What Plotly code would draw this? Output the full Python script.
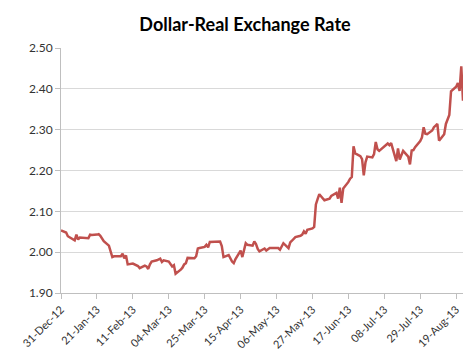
import plotly.graph_objects as go
import pandas as pd

dates = [
    "2012-12-31", "2013-01-02", "2013-01-03", "2013-01-04", "2013-01-07", "2013-01-08", "2013-01-09", "2013-01-10",
    "2013-01-11", "2013-01-14", "2013-01-15", "2013-01-16", "2013-01-17", "2013-01-18", "2013-01-21", "2013-01-22",
    "2013-01-23", "2013-01-24", "2013-01-25", "2013-01-28", "2013-01-29", "2013-01-30", "2013-01-31", "2013-02-01",
    "2013-02-04", "2013-02-05", "2013-02-06", "2013-02-07", "2013-02-08", "2013-02-11", "2013-02-12", "2013-02-13",
    "2013-02-14", "2013-02-15", "2013-02-18", "2013-02-19", "2013-02-20", "2013-02-21", "2013-02-22", "2013-02-25",
    "2013-02-26", "2013-02-27", "2013-02-28", "2013-03-01", "2013-03-04", "2013-03-05", "2013-03-06", "2013-03-07",
    "2013-03-08", "2013-03-11", "2013-03-12", "2013-03-13", "2013-03-14", "2013-03-15", "2013-03-18", "2013-03-19",
    "2013-03-20", "2013-03-21", "2013-03-22", "2013-03-25", "2013-03-26", "2013-03-27", "2013-03-28", "2013-04-01",
    "2013-04-02", "2013-04-03", "2013-04-04", "2013-04-05", "2013-04-08", "2013-04-09", "2013-04-10", "2013-04-11",
    "2013-04-12", "2013-04-15", "2013-04-16", "2013-04-17", "2013-04-18", "2013-04-19", "2013-04-22", "2013-04-23",
    "2013-04-24", "2013-04-25", "2013-04-26", "2013-04-29", "2013-04-30", "2013-05-02", "2013-05-03", "2013-05-06",
    "2013-05-07", "2013-05-08", "2013-05-09", "2013-05-10", "2013-05-13", "2013-05-14", "2013-05-15", "2013-05-16",
    "2013-05-17", "2013-05-20", "2013-05-21", "2013-05-22", "2013-05-23", "2013-05-24", "2013-05-27", "2013-05-28",
    "2013-05-29", "2013-05-30", "2013-05-31", "2013-06-03", "2013-06-04", "2013-06-05", "2013-06-06", "2013-06-07",
    "2013-06-10", "2013-06-11", "2013-06-12", "2013-06-13", "2013-06-14", "2013-06-17", "2013-06-18", "2013-06-19",
    "2013-06-20", "2013-06-21", "2013-06-24", "2013-06-25", "2013-06-26", "2013-06-27", "2013-06-28", "2013-07-01",
    "2013-07-02", "2013-07-03", "2013-07-04", "2013-07-05", "2013-07-08", "2013-07-09", "2013-07-10", "2013-07-11",
    "2013-07-12", "2013-07-15", "2013-07-16", "2013-07-17", "2013-07-18", "2013-07-19", "2013-07-22", "2013-07-23",
    "2013-07-24", "2013-07-25", "2013-07-26", "2013-07-29", "2013-07-30", "2013-07-31", "2013-08-01", "2013-08-02",
    "2013-08-05", "2013-08-06", "2013-08-07", "2013-08-08", "2013-08-09", "2013-08-12", "2013-08-13", "2013-08-14",
    "2013-08-15", "2013-08-16", "2013-08-19", "2013-08-20", "2013-08-21", "2013-08-22", "2013-08-23",
]

rates = [
    2.053, 2.050, 2.048, 2.039, 2.030, 2.029, 2.043, 2.031,
    2.036, 2.035, 2.034, 2.034, 2.043, 2.042, 2.043, 2.044,
    2.040, 2.032, 2.027, 2.016, 2.000, 1.988, 1.990, 1.990,
    1.990, 1.996, 1.985, 1.992, 1.970, 1.972, 1.970, 1.967,
    1.966, 1.961, 1.967, 1.965, 1.959, 1.970, 1.977, 1.980,
    1.982, 1.984, 1.976, 1.980, 1.977, 1.970, 1.965, 1.968,
    1.947, 1.957, 1.962, 1.970, 1.973, 1.986, 1.986, 1.985,
    1.990, 2.009, 2.010, 2.013, 2.018, 2.012, 2.025, 2.025,
    2.025, 2.026, 2.015, 1.988, 1.993, 1.985, 1.977, 1.973,
    1.983, 2.004, 1.988, 2.005, 2.022, 2.018, 2.016, 2.026,
    2.020, 2.008, 2.002, 2.009, 2.004, 2.010, 2.010, 2.010,
    2.010, 2.006, 2.015, 2.022, 2.010, 2.024, 2.028, 2.032,
    2.037, 2.040, 2.043, 2.051, 2.045, 2.055, 2.058, 2.062,
    2.117, 2.130, 2.142, 2.127, 2.128, 2.130, 2.131, 2.138,
    2.145, 2.131, 2.158, 2.121, 2.156, 2.172, 2.180, 2.184,
    2.259, 2.242, 2.235, 2.228, 2.188, 2.220, 2.234, 2.232,
    2.240, 2.270, 2.252, 2.248, 2.259, 2.262, 2.266, 2.262,
    2.267, 2.223, 2.254, 2.227, 2.240, 2.248, 2.234, 2.215,
    2.249, 2.250, 2.257, 2.272, 2.281, 2.306, 2.290, 2.289,
    2.298, 2.306, 2.310, 2.314, 2.273, 2.289, 2.314, 2.325,
    2.336, 2.394, 2.405, 2.414, 2.395, 2.455, 2.371,
]

tick_labels = ["31-Dec-12", "21-Jan-13", "11-Feb-13", "04-Mar-13", "25-Mar-13", "15-Apr-13",
               "06-May-13", "27-May-13", "17-Jun-13", "08-Jul-13", "29-Jul-13", "19-Aug-13"]
tick_dates = [pd.to_datetime(t, format="%d-%b-%y") for t in tick_labels]

y_ticks = [1.90, 2.00, 2.10, 2.20, 2.30, 2.40, 2.50]

fig = go.Figure()
fig.add_trace(go.Scatter(
    x=pd.to_datetime(dates), y=rates, mode="lines",
    line=dict(color="#C0504D", width=2.5),
    showlegend=False, hoverinfo="x+y",
))

fig.update_layout(
    width=474, height=355,
    margin=dict(l=43, r=19, t=40, b=59),
    paper_bgcolor="white", plot_bgcolor="white",
    title=dict(text="<b>Dollar-Real Exchange Rate</b>", x=0.5, xanchor="center",
               y=0.952, yanchor="middle",
               font=dict(family="Lato, Open Sans, sans-serif", size=18, color="#000000")),
    font=dict(family="Lato, Open Sans, sans-serif", size=11, color="#333333"),
)

fig.update_xaxes(
    type="date",
    range=[pd.Timestamp("2012-12-31"), pd.Timestamp("2013-08-23")],
    tickvals=tick_dates, ticktext=tick_labels, tickangle=-45,
    showgrid=False, showline=True, linecolor="#BFBFBF", linewidth=1,
    ticks="outside", ticklen=5, tickcolor="#BFBFBF",
    tickfont=dict(size=11, color="#333333"),
)
fig.update_yaxes(
    range=[1.90, 2.50], tickvals=y_ticks, tickformat=".2f",
    showgrid=True, gridcolor="#D9D9D9", gridwidth=1,
    showline=True, linecolor="#BFBFBF", linewidth=1,
    ticks="outside", ticklen=5, tickcolor="#BFBFBF",
    tickfont=dict(size=12, color="#333333"),
    zeroline=False,
)

fig.write_html("out.html")
